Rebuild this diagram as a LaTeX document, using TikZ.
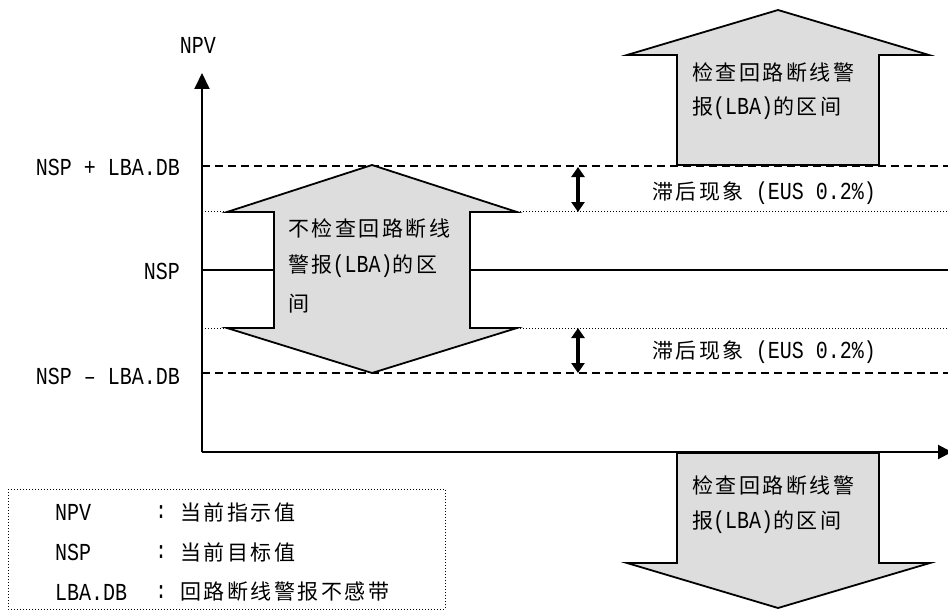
\documentclass[tikz,border=0pt]{standalone}
\usepackage{graphicx}
\usepackage{fontspec}
\setmainfont{Noto Sans CJK SC}[LetterSpace=12]
\setmonofont{Liberation Mono}
\usetikzlibrary{arrows.meta}
\newcommand\lat[1]{\scalebox{1}[1.22]{\ttfamily\fontsize{20}{24}\selectfont #1}}
\definecolor{fillgray}{RGB}{221,221,221}
\begin{document}
\begin{tikzpicture}[x=1pt,y={(0pt,-1pt)},
  every node/.style={inner sep=0pt, font=\fontsize{21}{25}\selectfont},
  axisline/.style={line width=2pt},
  dashline/.style={line width=1.5pt, dash pattern=on 8pt off 5pt},
  dotline/.style={line width=1pt, dash pattern=on 1pt off 2pt},
  bigarrow/.style={draw, line width=1.8pt, fill=fillgray, line join=miter},
  hyst/.style={line width=3.5pt, {Triangle[length=10pt,width=13pt]}-{Triangle[length=10pt,width=13pt]}},
  lbl/.style={anchor=east},
  txt/.style={anchor=west}]
\useasboundingbox (0,0) rectangle (948,610);
% coordinates
\coordinate (O) at (202,452);
\coordinate (ytip) at (202,73);
\coordinate (xtip) at (952,452);
% horizontal reference lines
\draw[dashline] (202,166) -- (948,166);
\draw[dashline] (202,373) -- (948,373);
\draw[dotline] (202,211) -- (948,211);
\draw[dotline] (202,328) -- (948,328);
\draw[line width=2pt] (202,270) -- (948,270);
% big arrows
\draw[bigarrow] (227,212) -- (372,165) -- (517,212) -- (470,212) -- (470,328) -- (517,328)
  -- (372,373) -- (227,328) -- (274,328) -- (274,212) -- cycle;
\draw[bigarrow] (627,55) -- (778,10) -- (929,55) -- (879,55) -- (879,165) -- (677,165) -- (677,55) -- cycle;
\draw[bigarrow] (677,453) -- (879,453) -- (879,563) -- (930,563) -- (778,608) -- (627,563) -- (677,563) -- cycle;
% axes
\draw[axisline, -{Triangle[length=16pt,width=15pt]}] (O) -- (ytip);
\draw[axisline, -{Triangle[length=14pt,width=14pt]}] (O) -- (xtip);
% hysteresis arrows
\coordinate (h1a) at (578,167); \coordinate (h1b) at (578,212);
\coordinate (h2a) at (578,328); \coordinate (h2b) at (578,373);
\draw[hyst] (h1a) -- (h1b);
\draw[hyst] (h2a) -- (h2b);
% labels
\node (npv) at (198,45) {\lat{NPV}};
\node[lbl] (l1) at (180,167) {\lat{NSP + LBA.DB}};
\node[lbl] (l2) at (180,271) {\lat{NSP}};
\node[lbl] (l3) at (180,376) {\lat{NSP – LBA.DB}};
% hex text
\node[txt] (t1) at (288,228) {不检查回路断线};
\node[txt] (t2) at (288,266) {警报\lat{(LBA)}的区};
\node[txt] (t3) at (288,304) {间};
% top arrow text
\node[txt] (u1) at (692,72) {检查回路断线警};
\node[txt] (u2) at (692,108) {报\lat{(LBA)}的区间};
% bottom arrow text
\node[txt] (d1) at (692,485) {检查回路断线警};
\node[txt] (d2) at (692,522) {报\lat{(LBA)}的区间};
% hysteresis labels
\node[txt] (hy1) at (652,193) {滞后现象\lat{ (EUS 0.2\%)}};
\node[txt] (hy2) at (652,352) {滞后现象\lat{ (EUS 0.2\%)}};
% legend
\draw[dotline] (8,489) rectangle (445,609);
\node[txt] (k1) at (55,512) {\lat{NPV}};
\node[txt] (k2) at (55,552) {\lat{NSP}};
\node[txt] (k3) at (55,592) {\lat{LBA.DB}};
\node (c1) at (161,512) {\lat{:}};
\node (c2) at (161,552) {\lat{:}};
\node (c3) at (161,592) {\lat{:}};
\node[txt] (v1) at (180,512) {当前指示值};
\node[txt] (v2) at (180,552) {当前目标值};
\node[txt] (v3) at (180,592) {回路断线警报不感带};
\end{tikzpicture}
\end{document}
